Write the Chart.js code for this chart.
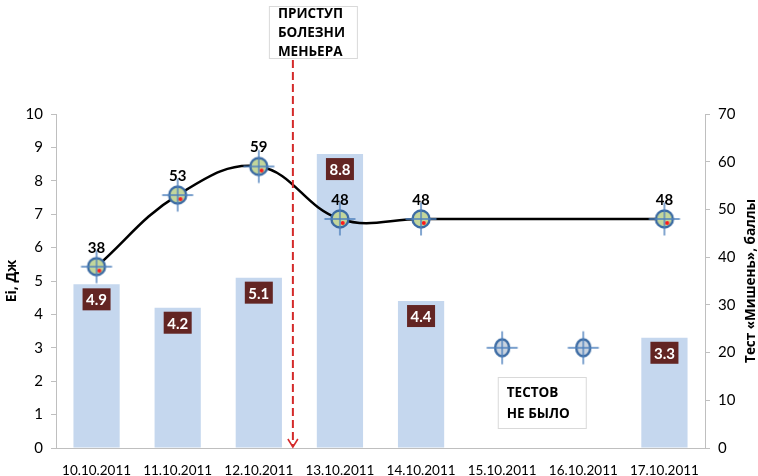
<!DOCTYPE html>
<html>
<head>
<meta charset="utf-8">
<script src="https://cdn.jsdelivr.net/npm/chart.js@4/dist/chart.umd.min.js"></script>
<style>
  html, body { margin: 0; padding: 0; background: #ffffff; }
  #wrap { width: 758px; height: 476px; }
</style>
</head>
<body>
<div id="wrap"><canvas id="chart" width="758" height="476"></canvas></div>
<script>
// Daily measurements
const dates = ['10.10.2011', '11.10.2011', '12.10.2011', '13.10.2011',
               '14.10.2011', '15.10.2011', '16.10.2011', '17.10.2011'];
const energy = [4.9, 4.2, 5.1, 8.8, 4.4, null, null, 3.3];          // Ei, Дж
const targetScore = [38, 53, 59, 48, 48, null, null, 48];            // Тест «Мишень», баллы
const missedTests = [null, null, null, null, null, 21, 21, null];   // days without a test
const energyTicks = [0, 10, 1];     // min, max, step
const scoreTicks = [0, 70, 10];     // min, max, step

// Notes
const attackNote = ['ПРИСТУП', 'БОЛЕЗНИ', 'МЕНЬЕРА'];
const noTestNote = ['ТЕСТОВ', 'НЕ БЫЛО'];
const attackAt = 2.42;              // category index where the attack is marked

const FONT = "Lato, 'Open Sans', 'Noto Sans', sans-serif";
const CYR = "'Open Sans', 'Noto Sans', sans-serif";

// Crosshair target marker used as point style
function makeMarker(fill, withDot, rx, ry) {
  const c = document.createElement('canvas');
  c.width = 36; c.height = 36;
  const g = c.getContext('2d');
  const cx = 18, cy = 18;
  g.beginPath();
  g.ellipse(cx, cy, rx, ry, 0, 0, Math.PI * 2);
  g.fillStyle = fill;
  g.fill();
  g.lineWidth = 2.4;
  g.strokeStyle = '#3a6aa3';
  g.stroke();
  g.strokeStyle = '#4f81bd';
  g.lineWidth = 1.4;
  g.beginPath();
  g.moveTo(cx - 15.5, cy); g.lineTo(cx + 15.5, cy);
  g.moveTo(cx, cy - 16.5); g.lineTo(cx, cy + 16.5);
  g.stroke();
  if (withDot) {
    g.fillStyle = '#ff1a1a';
    g.beginPath();
    g.arc(cx + 2.8, cy + 4, 2, 0, Math.PI * 2);
    g.fill();
  }
  return c;
}
const scoreMarker = makeMarker('#c3d69b', true, 8.5, 8.5);
const emptyMarker = makeMarker('#c9d3df', false, 7, 8.5);

const labelPlugin = {
  id: 'valueLabels',
  afterDatasetDraw(chart, args) {
    const ctx = chart.ctx;
    if (args.index === 0) {
      // value boxes inside the top of each bar
      ctx.save();
      ctx.font = 'bold 15px ' + FONT;
      ctx.textAlign = 'center';
      ctx.textBaseline = 'middle';
      args.meta.data.forEach((bar, i) => {
        if (energy[i] == null) return;
        const w = 28, h = 22;
        const top = bar.y + 4;
        ctx.fillStyle = '#632523';
        ctx.fillRect(bar.x - w / 2, top, w, h);
        ctx.fillStyle = '#ffffff';
        ctx.fillText(energy[i].toFixed(1), bar.x, top + h / 2 + 1);
      });
      ctx.restore();
    }
    if (args.index === 1) {
      ctx.save();
      ctx.font = 'bold 15px ' + FONT;
      ctx.textAlign = 'center';
      ctx.textBaseline = 'middle';
      ctx.fillStyle = '#000000';
      args.meta.data.forEach((pt, i) => {
        if (targetScore[i] == null) return;
        ctx.fillText(String(targetScore[i]), pt.x, pt.y - 19);
      });
      ctx.restore();
    }
  },
  afterDraw(chart) {
    const ctx = chart.ctx;
    const area = chart.chartArea;
    const xs = chart.scales.x;

    // rotated axis titles
    ctx.save();
    ctx.font = 'bold 14px ' + CYR;
    ctx.fillStyle = '#000';
    ctx.textAlign = 'center';
    ctx.textBaseline = 'middle';
    const midY = (area.top + area.bottom) / 2;
    ctx.translate(12, midY);
    ctx.rotate(-Math.PI / 2);
    ctx.fillText('Ei, Дж', 0, 0);
    ctx.restore();

    ctx.save();
    ctx.font = 'bold 13.5px ' + CYR;
    ctx.fillStyle = '#000';
    ctx.textAlign = 'center';
    ctx.textBaseline = 'middle';
    ctx.translate(751, midY);
    ctx.rotate(-Math.PI / 2);
    ctx.fillText('Тест «Мишень», баллы', 0, 0);
    ctx.restore();

    // dashed arrow marking the attack
    const p2 = xs.getPixelForValue(Math.floor(attackAt));
    const p3 = xs.getPixelForValue(Math.floor(attackAt) + 1);
    const ax = p2 + (attackAt - Math.floor(attackAt)) * (p3 - p2);
    const boxTop = 6, boxH = 53;
    ctx.save();
    ctx.strokeStyle = '#d42a2a';
    ctx.lineWidth = 2;
    ctx.setLineDash([8, 4]);
    ctx.beginPath();
    ctx.moveTo(ax, boxTop + boxH + 1);
    ctx.lineTo(ax, area.bottom - 1);
    ctx.stroke();
    ctx.setLineDash([]);
    ctx.lineWidth = 1.6;
    ctx.beginPath();
    ctx.moveTo(ax - 5, area.bottom - 9);
    ctx.lineTo(ax, area.bottom - 1);
    ctx.lineTo(ax + 5, area.bottom - 9);
    ctx.stroke();
    ctx.restore();

    // note boxes
    function noteBox(left, top, w, h, lines, lineH, firstY) {
      ctx.save();
      ctx.fillStyle = '#ffffff';
      ctx.fillRect(left, top, w, h);
      ctx.strokeStyle = '#d9d9d9';
      ctx.lineWidth = 1;
      ctx.strokeRect(left + 0.5, top + 0.5, w - 1, h - 1);
      ctx.font = 'bold 13.5px ' + CYR;
      ctx.fillStyle = '#000';
      ctx.textAlign = 'left';
      ctx.textBaseline = 'middle';
      lines.forEach((t, k) => ctx.fillText(t, left + 9, top + firstY + k * lineH));
      ctx.restore();
    }
    noteBox(ax - 24, boxTop, 89, boxH, attackNote, 19, 8.5);
    const mid = (xs.getPixelForValue(5) + xs.getPixelForValue(6)) / 2;
    noteBox(mid - 45, area.bottom - 71, 89, 52, noTestNote, 21, 16);
  }
};

const axisGrey = '#bfbfbf';

new Chart(document.getElementById('chart'), {
  data: {
    labels: dates,
    datasets: [
      {
        type: 'bar',
        data: energy,
        yAxisID: 'y',
        backgroundColor: '#c5d7ee',
        barPercentage: 0.57,
        categoryPercentage: 1,
        order: 3
      },
      {
        type: 'line',
        data: targetScore,
        yAxisID: 'y1',
        borderColor: '#000000',
        borderWidth: 2.5,
        tension: 0.4,
        spanGaps: true,
        pointStyle: scoreMarker,
        pointRadius: 10,
        order: 1
      },
      {
        type: 'line',
        data: missedTests,
        yAxisID: 'y1',
        showLine: false,
        pointStyle: emptyMarker,
        pointRadius: 10,
        order: 2
      }
    ]
  },
  options: {
    responsive: false,
    animation: false,
    layout: { padding: { top: 114, left: 0, right: 0, bottom: 0 } },
    plugins: { legend: { display: false }, tooltip: { enabled: false } },
    scales: {
      x: {
        grid: { display: false },
        border: { display: true, color: axisGrey, width: 1 },
        ticks: { color: '#000', font: { size: 13.5, family: FONT }, padding: 7, maxRotation: 0, autoSkip: false },
        afterFit(s) { s.height = 28; }
      },
      y: {
        position: 'left',
        min: energyTicks[0], max: energyTicks[1],
        ticks: { stepSize: energyTicks[2], color: '#000', font: { size: 15, family: FONT }, padding: 8 },
        grid: { drawOnChartArea: false, tickLength: 5, color: axisGrey },
        border: { color: axisGrey },
        afterFit(s) { s.width = 56; }
      },
      y1: {
        position: 'right',
        min: scoreTicks[0], max: scoreTicks[1],
        ticks: { stepSize: scoreTicks[2], color: '#000', font: { size: 15, family: FONT }, padding: 8 },
        grid: { drawOnChartArea: false, tickLength: 5, color: axisGrey },
        border: { color: axisGrey },
        afterFit(s) { s.width = 53; }
      }
    }
  },
  plugins: [labelPlugin]
});
</script>
</body>
</html>
